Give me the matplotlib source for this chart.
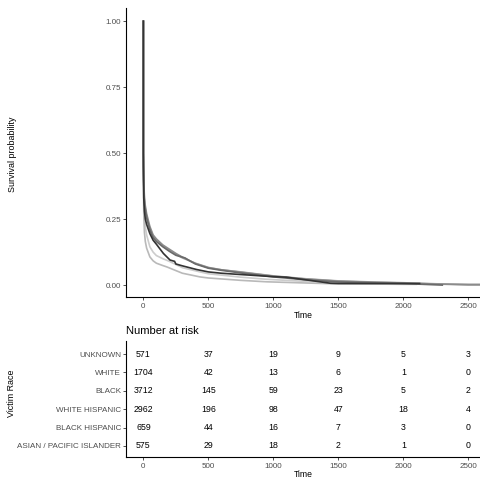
import matplotlib
matplotlib.use('Agg')
import matplotlib.pyplot as plt
import numpy as np

plt.rcParams['font.family'] = ['Liberation Sans', 'DejaVu Sans']

# strata, top row of the risk table first
groups = ['UNKNOWN', 'WHITE', 'BLACK', 'WHITE HISPANIC', 'BLACK HISPANIC',
          'ASIAN / PACIFIC ISLANDER']
colors = ['#cccccc', '#b9b9b9', '#a4a4a4', '#8b8b8b', '#6a6a6a', '#333333']

# survival curves (time, probability)
t_unknown = [0, 0, 1, 3, 8, 15, 25, 50, 75, 100, 150, 200, 300, 436, 500, 750, 949, 1250, 1500, 1750, 2000, 2250, 2500, 2600]
s_unknown = [1.0, 0.50, 0.44, 0.33, 0.26, 0.22, 0.19, 0.145, 0.125, 0.112, 0.10, 0.09, 0.066, 0.05, 0.043, 0.03, 0.022, 0.014, 0.01, 0.008, 0.006, 0.004, 0.004, 0.004]

t_white = [0, 0, 1, 3, 8, 15, 25, 50, 75, 100, 150, 180, 300, 436, 500, 750, 949, 1250, 1460, 1750, 2000, 2100]
s_white = [1.0, 0.45, 0.38, 0.27, 0.20, 0.165, 0.14, 0.107, 0.092, 0.083, 0.074, 0.069, 0.045, 0.031, 0.027, 0.018, 0.0125, 0.008, 0.005, 0.004, 0.003, 0.003]

t_black = [0, 0, 1, 3, 8, 15, 25, 50, 75, 100, 150, 200, 250, 300, 400, 500, 600, 750, 1000, 1250, 1500, 1750, 2000, 2250, 2500, 2600]
s_black = [1.0, 0.50, 0.47, 0.39, 0.32, 0.29, 0.26, 0.215, 0.185, 0.17, 0.148, 0.132, 0.117, 0.103, 0.083, 0.067, 0.058, 0.05, 0.035, 0.024, 0.016, 0.012, 0.009, 0.005, 0.002, 0.002]

t_whisp = [0, 0, 1, 3, 8, 15, 25, 50, 75, 100, 150, 200, 250, 300, 400, 500, 600, 750, 1000, 1250, 1500, 1750, 2000, 2250, 2500, 2600]
s_whisp = [1.0, 0.50, 0.48, 0.40, 0.33, 0.30, 0.27, 0.222, 0.19, 0.175, 0.152, 0.136, 0.12, 0.106, 0.082, 0.066, 0.058, 0.049, 0.034, 0.023, 0.015, 0.011, 0.008, 0.004, 0.001, 0.001]

t_bhisp = [0, 0, 1, 3, 8, 15, 25, 50, 75, 100, 150, 200, 250, 320, 350, 400, 500, 600, 750, 1000, 1250, 1500, 1750, 2000, 2300]
s_bhisp = [1.0, 0.50, 0.46, 0.38, 0.31, 0.285, 0.255, 0.21, 0.18, 0.165, 0.145, 0.128, 0.113, 0.103, 0.094, 0.08, 0.064, 0.056, 0.046, 0.031, 0.02, 0.012, 0.009, 0.006, 0.0]

t_asian = [0, 0, 1, 3, 8, 15, 25, 50, 75, 100, 154, 205, 240, 250, 300, 410, 500, 600, 750, 1000, 1100, 1250, 1440, 1500, 1750, 2000, 2125]
s_asian = [1.0, 0.45, 0.40, 0.33, 0.28, 0.25, 0.23, 0.195, 0.17, 0.155, 0.12, 0.095, 0.09, 0.08, 0.073, 0.059, 0.05, 0.045, 0.04, 0.032, 0.03, 0.02, 0.007, 0.006, 0.006, 0.006, 0.006]

times = [t_unknown, t_white, t_black, t_whisp, t_bhisp, t_asian]
survs = [s_unknown, s_white, s_black, s_whisp, s_bhisp, s_asian]

# number at risk table
risk_times = [0, 500, 1000, 1500, 2000, 2500]
risk_unknown = [571, 37, 19, 9, 5, 3]
risk_white = [1704, 42, 13, 6, 1, 0]
risk_black = [3712, 145, 59, 23, 5, 2]
risk_whisp = [2962, 196, 98, 47, 18, 4]
risk_bhisp = [659, 44, 16, 7, 3, 0]
risk_asian = [575, 29, 18, 2, 1, 0]
risks = [risk_unknown, risk_white, risk_black, risk_whisp, risk_bhisp, risk_asian]

xticks = [0, 500, 1000, 1500, 2000, 2500]
xlim = (-130, 2590)

fig = plt.figure(figsize=(4.8, 4.79), dpi=100)
ax = fig.add_axes([0.2635, 0.38, 0.7365, 0.6033])
ax2 = fig.add_axes([0.2635, 0.046, 0.7365, 0.2422])


def style(a):
    for s in ['top', 'right']:
        a.spines[s].set_visible(False)
    for s in ['left', 'bottom']:
        a.spines[s].set_color('black')
        a.spines[s].set_linewidth(0.8)
    a.tick_params(length=2.5, width=0.6, color='#333333', labelcolor='#4d4d4d',
                  labelsize=5.8, pad=1.5)


for t, s, c in zip(times, survs, colors):
    ax.plot(t, s, color=c, lw=1.2, solid_joinstyle='miter')

ax.set_xlim(*xlim)
ax.set_ylim(-0.045, 1.05)
ax.set_xticks(xticks)
ax.set_yticks([0, 0.25, 0.5, 0.75, 1.0])
ax.set_yticklabels(['0.00', '0.25', '0.50', '0.75', '1.00'])
style(ax)
ax.set_xlabel('Time', fontsize=6.2, labelpad=1)
fig.text(0.027, 0.679, 'Survival probability', rotation=90, fontsize=6.4,
         ha='center', va='center')

# risk table
ypos = np.arange(len(groups))[::-1] + 1
for y, r in zip(ypos, risks):
    for x, n in zip(risk_times, r):
        ax2.text(x, y, str(n), ha='center', va='center', fontsize=6.3, color='black')
ax2.set_xlim(*xlim)
ax2.set_ylim(0.4, 6.71)
ax2.set_xticks(xticks)
ax2.set_yticks(ypos)
ax2.set_yticklabels(groups)
for lab, c in zip(ax2.get_yticklabels(), colors):
    lab.set_color(c)
style(ax2)
ax2.tick_params(axis='y', labelsize=5.8)
ax2.set_xlabel('Time', fontsize=6.2, labelpad=0)
ax2.set_title('Number at risk', loc='left', fontsize=8, pad=5)
fig.text(0.025, 0.18, 'Victim Race', rotation=90, fontsize=6.4,
         ha='center', va='center')

fig.savefig('out.png', dpi=100)
